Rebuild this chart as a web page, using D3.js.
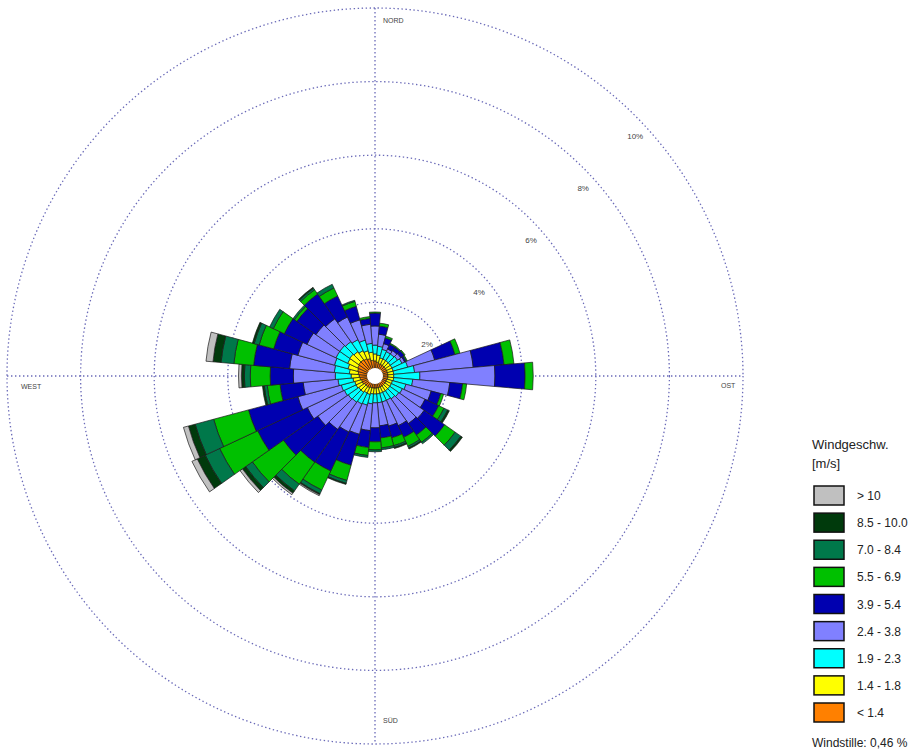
<!DOCTYPE html>
<html>
<head>
<meta charset="utf-8">
<script src="https://cdn.jsdelivr.net/npm/d3@7"></script>
<style>
  body { margin: 0; background: #fff; }
  svg { display: block; font-family: "Liberation Sans", Arial, sans-serif; }
</style>
</head>
<body>
<svg id="chart" width="924" height="751"></svg>
<script>
// Direction sectors (degrees, clockwise from north), 10° wide
const directions = d3.range(0, 360, 10);

const speedClasses = ["< 1.4", "1.4 - 1.8", "1.9 - 2.3", "2.4 - 3.8", "3.9 - 5.4",
                      "5.5 - 6.9", "7.0 - 8.4", "8.5 - 10.0", "> 10"];
const classColors = ["#ff8000", "#ffff00", "#00ffff", "#8080ff", "#0000b0",
                     "#00c000", "#00784a", "#003a0c", "#c0c0c0"];

// Frequency (%) per sector for each wind speed class
const freqBelow14 = [.41,.38,.35,.35,.35,.35,.35,.35,.35,.35,.35,.33,.33,.33,.33,.33,.33,.33,
                     .33,.33,.33,.35,.35,.35,.38,.38,.41,.43,.46,.49,.52,.54,.54,.52,.49,.43];
const freq14to18 = [.19,.19,.16,.16,.16,.16,.16,.16,.16,.16,.16,.16,.16,.16,.16,.16,.16,.16,
                    .16,.16,.19,.16,.19,.19,.19,.19,.19,.22,.24,.27,.30,.30,.27,.24,.22,.22];
const freq19to23 = [.24,.24,.24,.22,.22,.24,.30,.41,.57,.71,.52,.38,.33,.30,.27,.24,.24,.24,
                    .24,.27,.30,.33,.33,.35,.35,.38,.41,.43,.41,.38,.35,.33,.33,.33,.30,.24];
const freq24to38 = [.52,.33,.16,.08,.11,.11,.08,.76,1.60,2.04,1.01,.71,.68,.84,.82,.76,.68,.63,
                    .68,.73,.82,.84,.90,1.01,1.11,1.22,.95,1.14,1.22,1.03,.87,.79,.76,.68,.57,.52];
const freq39to54 = [.35,.22,.16,.14,.11,.11,.05,.57,.84,.82,.35,.27,.41,.68,.38,.35,.33,.33,
                    .38,.46,.87,1.17,1.09,1.14,1.49,1.39,.63,.63,.98,.68,.68,.63,.82,.63,.38,.16];
const freq55to69 = [.03,.08,.05,.03,.03,.03,.03,.14,.27,.22,.11,.08,.16,.35,.24,.27,.22,.27,
                    .22,.22,.43,.57,.73,1.03,1.14,.98,.35,.54,.54,.41,.33,.08,.14,.24,.14,.05];
const freq70to84 = [0,0,0,0,0,0,0,0,0,0,0,0,.11,.19,.05,.05,.05,.05,
                    .05,.05,.08,.11,.22,.22,.43,.52,.08,.16,.35,.14,.11,.05,.05,.11,.03,0];
const freq85to100 = [0,0,0,0,0,0,0,0,0,0,0,0,.05,.05,0,.03,.03,0,
                     0,0,.03,.03,.08,.11,.24,.19,.05,.08,.22,.05,0,0,.03,0,0,0];
const freqAbove10 = [0,0,0,0,0,0,0,0,0,0,0,0,0,0,0,0,0,0,
                     0,0,0,.03,.05,.08,.16,.14,0,.08,.19,0,0,0,0,0,0,0];

const classSeries = [freqBelow14, freq14to18, freq19to23, freq24to38, freq39to54,
                     freq55to69, freq70to84, freq85to100, freqAbove10];

const ringTicks = [2, 4, 6, 8, 10];
const compassNames = ["NORD", "OST", "SÜD", "WEST"];
const calmText = "Windstille: 0,46 %";
const legendTitle = ["Windgeschw.", "[m/s]"];

// ---- layout ----
const svg = d3.select("#chart");
const cx = 375, cy = 376, outerR = 368;
const r = d3.scaleLinear().domain([0, 10]).range([0, outerR]);
const gridColor = "#6a6ab8";

const g = svg.append("g").attr("transform", `translate(${cx},${cy})`);

// grid rings and axes (dotted)
const grid = g.append("g").attr("fill", "none").attr("stroke", gridColor)
  .attr("stroke-width", 1.3).attr("stroke-dasharray", "1.4,2.6");
grid.selectAll("circle").data(ringTicks).join("circle").attr("r", d => r(d));
grid.append("line").attr("x1", 0).attr("x2", 0).attr("y1", -outerR).attr("y2", outerR);
grid.append("line").attr("y1", 0).attr("y2", 0).attr("x1", -outerR).attr("x2", outerR);

// ring labels along the 45° diagonal
g.append("g").selectAll("text").data(ringTicks).join("text")
  .attr("x", d => r(d) * Math.SQRT1_2)
  .attr("y", d => -r(d) * Math.SQRT1_2 + 23)
  .attr("text-anchor", "middle")
  .attr("font-size", 8).attr("fill", "#444")
  .text(d => d + "%");

// compass labels
const compassPos = [[8, -outerR + 15], [outerR - 22, 12], [8, outerR - 21], [-outerR + 14, 13]];
g.append("g").selectAll("text").data(compassNames).join("text")
  .attr("x", (d, i) => compassPos[i][0]).attr("y", (d, i) => compassPos[i][1])
  .attr("font-size", 7).attr("fill", "#444")
  .text(d => d);

// stacked sectors
const stackData = directions.map((dir, i) => {
  let acc = 0;
  return classSeries.map((s, k) => {
    const lo = acc; acc += s[i];
    return { dir, k, lo, hi: acc };
  });
}).flat().filter(d => d.hi > d.lo);

const half = 5 * Math.PI / 180;
const arc = d3.arc()
  .innerRadius(d => r(d.lo))
  .outerRadius(d => r(d.hi))
  .startAngle(d => d.dir * Math.PI / 180 - half)
  .endAngle(d => d.dir * Math.PI / 180 + half);

g.append("g").selectAll("path").data(stackData).join("path")
  .attr("d", arc)
  .attr("fill", d => classColors[d.k])
  .attr("stroke", "#1a1a1a").attr("stroke-width", 0.7);

// calm circle
g.append("circle").attr("r", 8).attr("fill", "#fff");

// legend
const lg = svg.append("g").attr("transform", "translate(812,0)");
lg.selectAll("text.title").data(legendTitle).join("text").attr("class", "title")
  .attr("x", 0).attr("y", (d, i) => 449 + i * 19)
  .attr("font-size", 13).attr("fill", "#222").text(d => d);

const order = d3.range(speedClasses.length).reverse();
const rowY = d3.scaleLinear().domain([0, 8]).range([486, 703]);
const rows = lg.selectAll("g.row").data(order).join("g").attr("class", "row")
  .attr("transform", (k, i) => `translate(0,${rowY(i)})`);
rows.append("rect").attr("x", 2).attr("y", 0).attr("width", 30).attr("height", 19)
  .attr("fill", k => classColors[k]).attr("stroke", "#111").attr("stroke-width", 1.5);
rows.append("text").attr("x", 45).attr("y", 14).attr("font-size", 12).attr("fill", "#222")
  .text(k => speedClasses[k]);
lg.append("text").attr("x", 0).attr("y", 747).attr("font-size", 12).attr("fill", "#222")
  .text(calmText);
</script>
</body>
</html>
